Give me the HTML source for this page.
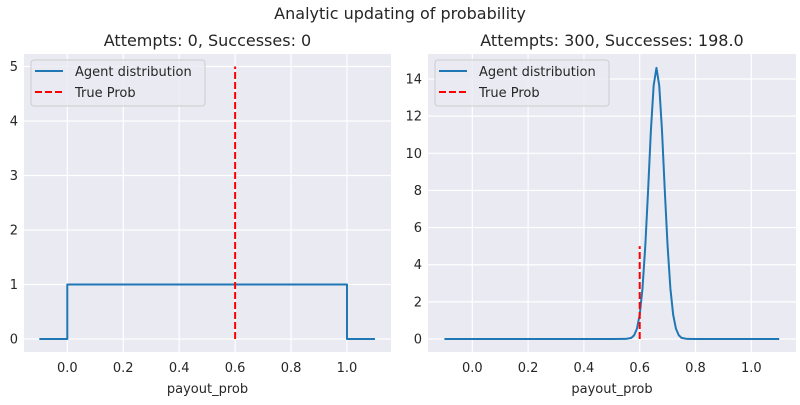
<!DOCTYPE html>
<html><head><meta charset="utf-8"><style>
body{margin:0;background:#fff;}
svg text{font-family:"DejaVu Sans","Liberation Sans",sans-serif;fill:#262626;}
</style></head><body>
<svg width="800" height="400">
<text x="400" y="19" text-anchor="middle" font-size="16">Analytic updating of probability</text>
<g id="left"></g>
<g id="right"></g>
</svg>
<script>
const leftTitle = "Attempts: 0, Successes: 0";
const rightTitle = "Attempts: 300, Successes: 198.0";
const xTicks = [0.0, 0.2, 0.4, 0.6, 0.8, 1.0];
const leftYTicks = [0, 1, 2, 3, 4, 5];
const rightYTicks = [0, 2, 4, 6, 8, 10, 12, 14];
const leftX = [-0.1, 0.0, 0.0, 1.0, 1.0, 1.1];
const leftY = [0, 0, 1, 1, 0, 0];
const rightX = [-0.1, 0.5, 0.55, 0.57, 0.58, 0.59, 0.60, 0.61, 0.62, 0.63, 0.64, 0.65, 0.66, 0.67, 0.68, 0.69, 0.70, 0.71, 0.72, 0.73, 0.74, 0.75, 0.77, 0.8, 1.1];
const rightY = [0, 0, 0.004, 0.06, 0.2, 0.55, 1.3, 2.72, 5.0, 7.97, 11.2, 13.65, 14.6, 13.65, 11.2, 7.97, 5.0, 2.72, 1.3, 0.55, 0.2, 0.06, 0.004, 0, 0];
const trueProb = 0.6;
const trueTop = 5;

const NS = "http://www.w3.org/2000/svg";
function mk(parent, tag, attrs, text){const e=document.createElementNS(NS,tag);for(const k in attrs)e.setAttribute(k,attrs[k]);if(text!==undefined)e.textContent=text;parent.appendChild(e);return e;}

function panel(g, cfg){
  const sx = v => cfg.x0 + v*(cfg.x1-cfg.x0);
  const sy = v => cfg.y0 - v*cfg.yScale;
  const bg = mk(g,'rect',{x:cfg.L,y:54,width:cfg.R-cfg.L,height:298,fill:'#EAEAF2'});
  
  
  cfg.xt.forEach(t=>{
    const l=mk(g,'line',{x1:sx(t),x2:sx(t),y1:54,y2:352,stroke:'#fff','stroke-width':1.2});
    
    
    const tx=mk(g,'text',{x:sx(t),y:372,'text-anchor':'middle','font-size':13},t.toFixed(1));
    
    
  });
  cfg.yt.forEach(t=>{
    const l=mk(g,'line',{x1:cfg.L,x2:cfg.R,y1:sy(t),y2:sy(t),stroke:'#fff','stroke-width':1.2});
    
    
    const tx=mk(g,'text',{x:cfg.L-6,y:sy(t)+4.5,'text-anchor':'end','font-size':13},String(t));
    
    
  });
  const pts=cfg.xs.map((x,i)=>sx(x).toFixed(2)+','+sy(cfg.ys[i]).toFixed(2)).join(' ');
  const pl=mk(g,'polyline',{points:pts,fill:'none',stroke:'#1f77b4','stroke-width':2,'stroke-linejoin':'round'});
  
  
  const tl=mk(g,'line',{x1:sx(trueProb),x2:sx(trueProb),y1:sy(0),y2:sy(trueTop),stroke:'#ff0000','stroke-width':2,'stroke-dasharray':'7,3'});
  
  
  const tt=mk(g,'text',{x:(cfg.L+cfg.R)/2,y:46,'text-anchor':'middle','font-size':16},cfg.title);
  
  
  const xl=mk(g,'text',{x:(cfg.L+cfg.R)/2,y:393,'text-anchor':'middle','font-size':13},'payout_prob');
  
  
  const lg=mk(g,'g',{});
  
  
  const lx=cfg.L+7;
  mk(lg,'rect',{x:lx,y:60,width:174,height:46,rx:3,fill:'#EAEAF2','fill-opacity':0.8,stroke:'#cccccc'});
  mk(lg,'line',{x1:lx+4,x2:lx+32,y1:71,y2:71,stroke:'#1f77b4','stroke-width':2});
  const t1=mk(lg,'text',{x:lx+44,y:76,'font-size':13},'Agent distribution');
  
  
  mk(lg,'line',{x1:lx+4,x2:lx+32,y1:92,y2:92,stroke:'#ff0000','stroke-width':2,'stroke-dasharray':'7,3'});
  const t2=mk(lg,'text',{x:lx+44,y:97,'font-size':13},'True Prob');
  
  
}
panel(document.getElementById('left'),{L:24,R:391,x0:67.3,x1:347,y0:339,yScale:54.5,xt:xTicks,yt:leftYTicks,xs:leftX,ys:leftY,title:leftTitle});
panel(document.getElementById('right'),{L:428,R:796,x0:472.3,x1:751.3,y0:339,yScale:18.57,xt:xTicks,yt:rightYTicks,xs:rightX,ys:rightY,title:rightTitle});
</script>
</body></html>
